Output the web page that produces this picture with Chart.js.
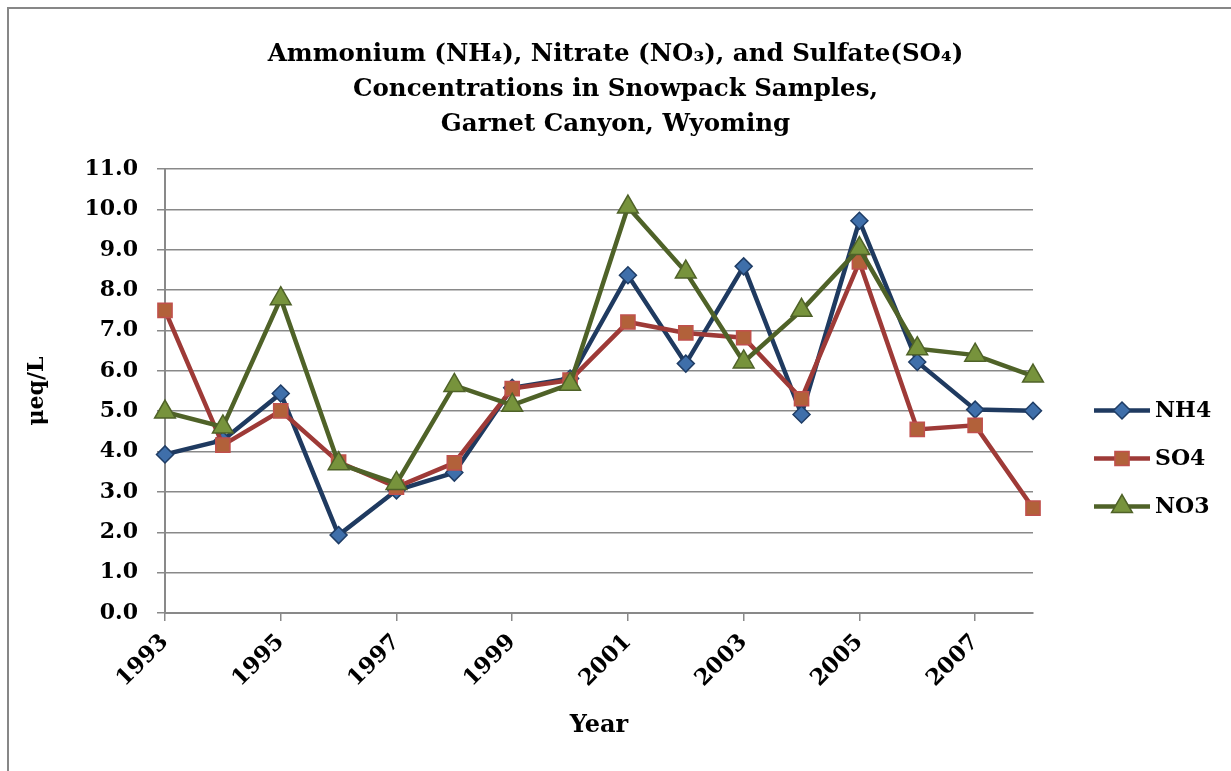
<!DOCTYPE html>
<html>
<head>
<meta charset="utf-8">
<script src="https://cdn.jsdelivr.net/npm/chart.js@4.4.0/dist/chart.umd.min.js"></script>
<style>
    html, body { margin: 0; padding: 0; background: #fff; overflow: hidden; }
    #wrap { position: relative; width: 1231px; height: 771px; }
    #frame { position: absolute; left: 7px; top: 7px; width: 1240px; height: 780px;
             border-left: 2px solid #878787; border-top: 2px solid #878787; }
    #chart { position: absolute; left: 0; top: 0; }
</style>
</head>
<body>
<div id="wrap">
    <div id="frame"></div>
    <canvas id="chart" width="1231" height="771"></canvas>
</div>
<script>
// data
const years = ['1993', '1994', '1995', '1996', '1997', '1998', '1999', '2000',
               '2001', '2002', '2003', '2004', '2005', '2006', '2007', '2008'];
const nh4 = [3.93, 4.28, 5.44, 1.93, 3.04, 3.48, 5.58, 5.81, 8.37, 6.18, 8.59, 4.92, 9.72, 6.22, 5.04, 5.01];
const so4 = [7.50, 4.16, 5.01, 3.74, 3.12, 3.72, 5.56, 5.77, 7.21, 6.94, 6.82, 5.31, 8.70, 4.55, 4.65, 2.60];
const no3 = [4.98, 4.61, 7.79, 3.70, 3.21, 5.64, 5.15, 5.67, 10.06, 8.45, 6.22, 7.50, 9.03, 6.55, 6.39, 5.87];
const seriesNames = ['NH4', 'SO4', 'NO3'];
const titleLines = ['Ammonium (NH\u2084), Nitrate (NO\u2083), and Sulfate(SO\u2084)',
                    'Concentrations in Snowpack Samples,',
                    'Garnet Canyon, Wyoming'];
const yMin = 0, yMax = 11, yStep = 1;

const gridColor = '#898989';
const serif = "'DejaVu Serif', 'Liberation Serif', serif";

Chart.defaults.font.family = serif;
Chart.defaults.color = '#000';

function drawMarker(ctx, style, x, y, r, fill, stroke, lw) {
    ctx.beginPath();
    if (style === 'rectRot') {
        ctx.moveTo(x, y - r); ctx.lineTo(x + r, y); ctx.lineTo(x, y + r); ctx.lineTo(x - r, y);
    } else if (style === 'rect') {
        const s = r * Math.SQRT1_2;
        ctx.rect(x - s, y - s, 2 * s, 2 * s);
    } else {
        ctx.moveTo(x, y - r);
        ctx.lineTo(x + r * Math.sin(Math.PI / 3), y + r / 2);
        ctx.lineTo(x - r * Math.sin(Math.PI / 3), y + r / 2);
    }
    ctx.closePath();
    ctx.fillStyle = fill;
    ctx.fill();
    ctx.lineWidth = lw;
    ctx.strokeStyle = stroke;
    ctx.stroke();
}

// legend on the right: short line with the marker on it, then the name
const seriesLegend = {
    id: 'seriesLegend',
    afterDraw(chart) {
        const ctx = chart.ctx;
        const area = chart.chartArea;
        const x0 = area.right + 61;
        const x1 = x0 + 56;
        const yMid = area.top + area.height * 0.652;
        chart.data.datasets.forEach((ds, i) => {
            const y = yMid + (i - 1) * 48;
            ctx.save();
            ctx.strokeStyle = ds.borderColor;
            ctx.lineWidth = ds.borderWidth;
            ctx.beginPath();
            ctx.moveTo(x0, y);
            ctx.lineTo(x1, y);
            ctx.stroke();
            drawMarker(ctx, ds.pointStyle, (x0 + x1) / 2, y, ds.pointRadius,
                       ds.pointBackgroundColor, ds.pointBorderColor, ds.pointBorderWidth);
            ctx.fillStyle = '#000';
            ctx.font = 'bold 22px ' + serif;
            ctx.textAlign = 'left';
            ctx.textBaseline = 'middle';
            ctx.fillText(ds.label, x1 + 5, y + 1);
            ctx.restore();
        });
    }
};

const ctx = document.getElementById('chart').getContext('2d');
const chart = new Chart(ctx, {
    type: 'line',
    data: {
        labels: years,
        datasets: [{
            label: seriesNames[0],
            data: nh4,
            borderColor: '#1F3A60',
            borderWidth: 4.5,
            pointStyle: 'rectRot',
            pointRadius: 8.5,
            pointBackgroundColor: '#3F6FAA',
            pointBorderColor: '#1F3D66',
            pointBorderWidth: 1.5,
            order: 2,
            clip: false
        }, {
            label: seriesNames[1],
            data: so4,
            borderColor: '#9E3A37',
            borderWidth: 4.5,
            pointStyle: 'rect',
            pointRadius: 10,
            pointBackgroundColor: '#B2613A',
            pointBorderColor: '#C0504D',
            pointBorderWidth: 1.5,
            order: 1,
            clip: false
        }, {
            label: seriesNames[2],
            data: no3,
            borderColor: '#4F6228',
            borderWidth: 4.5,
            pointStyle: 'triangle',
            pointRadius: 12,
            pointBackgroundColor: '#77933C',
            pointBorderColor: '#4F6228',
            pointBorderWidth: 1.5,
            order: 0,
            clip: false
        }]
    },
    options: {
        responsive: false,
        animation: false,
        layout: { padding: 0 },
        plugins: {
            legend: { display: false },
            tooltip: { enabled: false },
            title: {
                display: true,
                text: titleLines,
                color: '#000',
                font: { size: 24.5, weight: 'bold', lineHeight: 1.43 },
                padding: { top: 37, bottom: 27 }
            }
        },
        scales: {
            x: {
                type: 'category',
                offset: false,
                grid: {
                    drawOnChartArea: false,
                    tickLength: 8,
                    lineWidth: 1.5,
                    color: c => c.index % 2 === 0 ? gridColor : 'rgba(0,0,0,0)'
                },
                border: { color: gridColor, width: 2 },
                ticks: {
                    autoSkip: false,
                    minRotation: 45,
                    maxRotation: 45,
                    padding: 8,
                    color: '#000',
                    font: { size: 22.5, weight: 'bold' },
                    callback: (v, i) => i % 2 === 0 ? years[i] : ''
                },
                title: {
                    display: true,
                    text: 'Year',
                    color: '#000',
                    font: { size: 24, weight: 'bold' },
                    padding: { top: 0, bottom: 31 }
                },
                afterFit: s => { s.height = 158; }
            },
            y: {
                min: yMin,
                max: yMax,
                grid: { color: gridColor, lineWidth: 1.5, tickLength: 8 },
                border: { color: gridColor, width: 2 },
                ticks: {
                    stepSize: yStep,
                    padding: 19,
                    color: '#000',
                    font: { size: 22, weight: 'bold' },
                    callback: v => v.toFixed(1)
                },
                title: {
                    display: true,
                    text: 'μeq/L',
                    color: '#000',
                    font: { size: 22, weight: 'bold' },
                    padding: { top: 24, bottom: 0 }
                },
                afterFit: s => { s.width = 165; }
            },
            // empty right-hand axis that only keeps room for the legend
            legendRoom: {
                position: 'right',
                grid: { drawOnChartArea: false, drawTicks: false },
                border: { display: false },
                ticks: { display: false },
                afterFit: s => { s.width = 198; }
            }
        }
    },
    plugins: [seriesLegend]
});
</script>
</body>
</html>
